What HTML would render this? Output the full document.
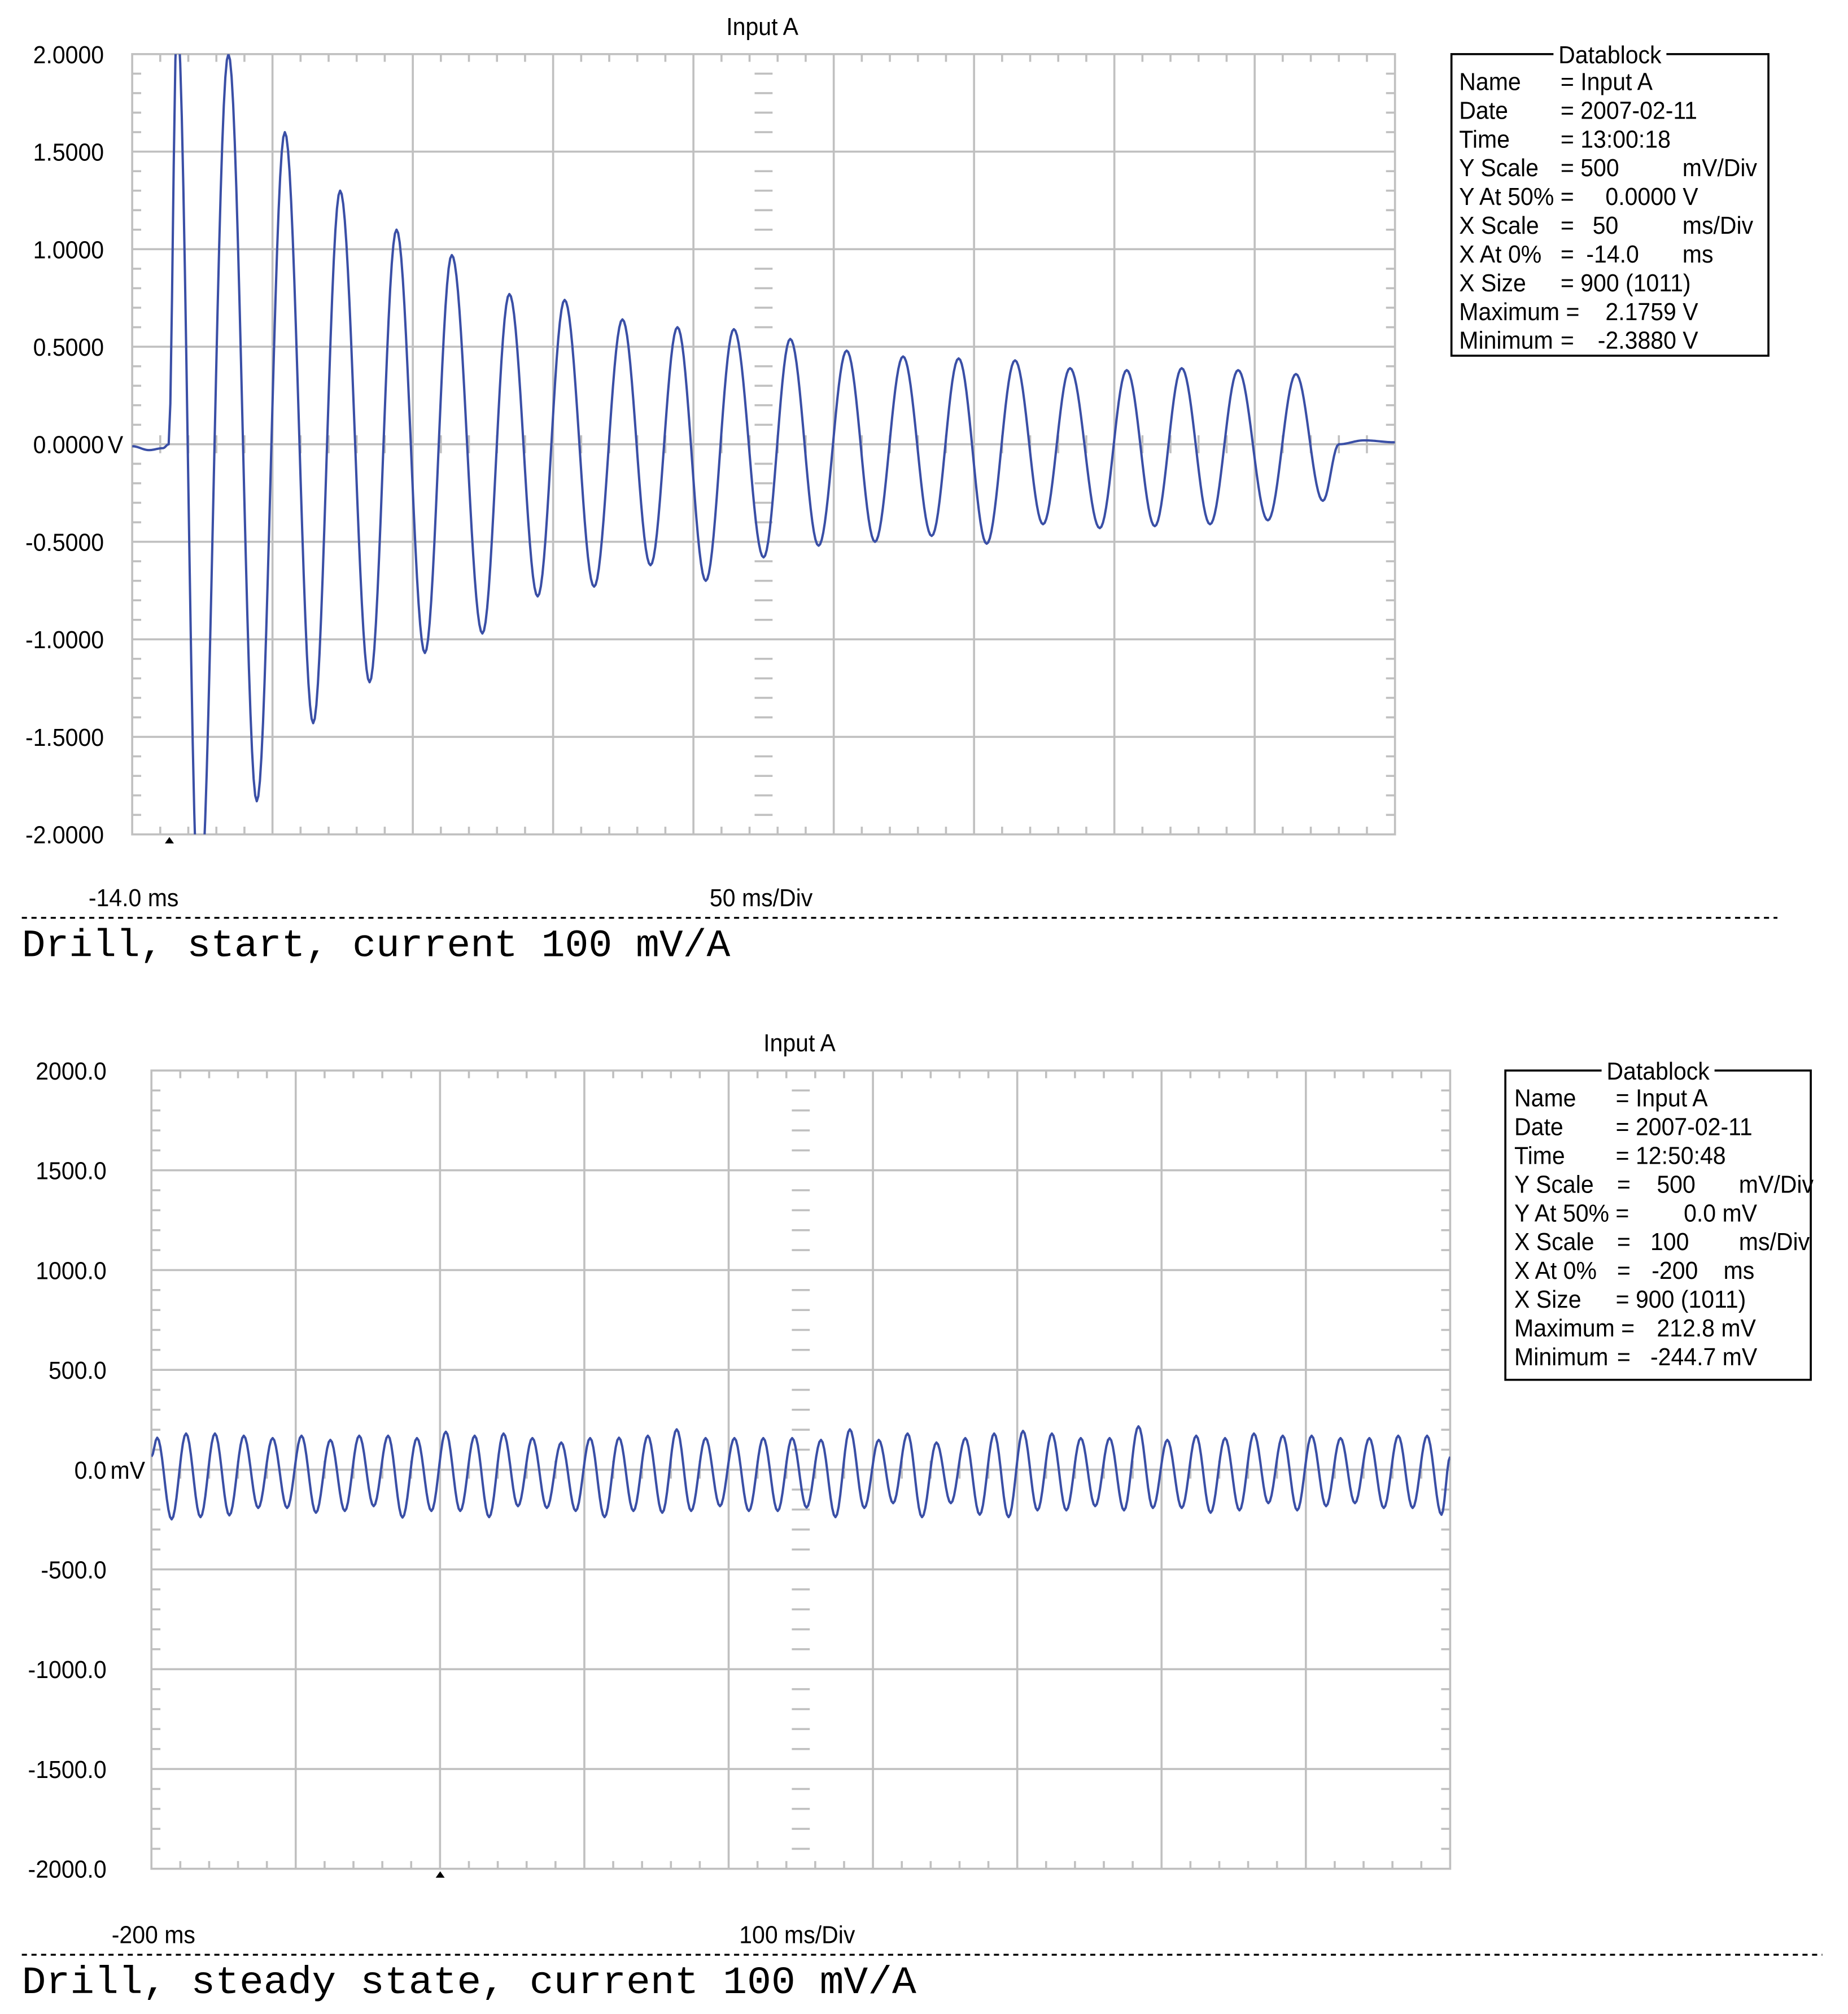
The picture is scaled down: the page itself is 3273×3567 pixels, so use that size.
<!DOCTYPE html>
<html><head><meta charset="utf-8"><style>
html,body{margin:0;padding:0;background:#fff}
svg{display:block}
.t{font-family:"Liberation Sans Narrow","Liberation Sans",sans-serif;font-size:19px;fill:#000}
.m{font-family:"Liberation Mono",monospace;fill:#000}
</style></head><body>
<svg id="svg" width="3273" height="3567" viewBox="0 0 1440 1569" xmlns="http://www.w3.org/2000/svg">
<defs>
<clipPath id="clipTop"><rect x="103" y="42" width="984" height="608"/></clipPath>
<clipPath id="clipBot"><rect x="118" y="834" width="1012" height="622"/></clipPath>
</defs>
<g id="top"></g>
<g id="bot"></g>
</svg>
<script>
// ---- Top chart data (Drill start) ----
const topYTicks = ["2.0000","1.5000","1.0000","0.5000","0.0000","-0.5000","-1.0000","-1.5000","-2.0000"];
const topYTickValues = [2,1.5,1,0.5,0,-0.5,-1,-1.5,-2];
const topTimes = [-14,-8,-3,-1,2.0,9.8,20.3,30.4,40.4,50.5,60.1,70.6,80.2,90.3,99.9,110.8,120.4,130.5,140.1,150.6,160.7,170.7,180.3,190.4,200.4,211.0,220.5,230.6,240.6,250.7,260.7,270.9,280.5,290.5,300.6,310.6,320.2,330.8,340.4,350.4,360.0,370.1,380.1,390.7,400.7,410.3,416,425,436];
const topValues = [-0.01,-0.03,-0.02,0,2.18,-2.39,2.0,-1.83,1.6,-1.43,1.3,-1.22,1.1,-1.07,0.97,-0.97,0.77,-0.78,0.74,-0.73,0.64,-0.62,0.6,-0.7,0.59,-0.58,0.54,-0.52,0.48,-0.5,0.45,-0.47,0.44,-0.51,0.43,-0.41,0.39,-0.43,0.38,-0.42,0.39,-0.41,0.38,-0.39,0.36,-0.29,0.0,0.02,0.01];
// ---- Bottom chart data (steady state), mV ----
const botYTicks = ["2000.0","1500.0","1000.0","500.0","0.0","-500.0","-1000.0","-1500.0","-2000.0"];
const botYTickValues = [2000,1500,1000,500,0,-500,-1000,-1500,-2000];
const botPeakTimes = [-196,-176,-156,-136,-116,-96,-76,-56,-36,-16,4,24,44,64,84,104,124,144,164,184,204,224,244,264,284,304,324,344,364,384,404,424,444,464,484,504,524,544,564,584,604,624,644,664,684];
const botPeakValues = [160,181,181,170,158,170,149,170,170,158,190,170,181,158,136,158,160,170,202,158,158,158,158,149,202,149,181,136,158,181,194,181,158,158,217,149,170,158,181,170,170,158,158,170,170];
const botTroughTimes = [-186,-166,-146,-126,-106,-86,-66,-46,-26,-6,14,34,54,74,94,114,134,154,174,194,214,234,254,274,294,314,334,354,374,394,414,434,454,474,494,514,534,554,574,594,614,634,654,674,694];
const botTroughValues = [-249,-238,-229,-192,-192,-216,-207,-183,-240,-207,-207,-238,-183,-192,-207,-238,-207,-216,-207,-183,-207,-207,-190,-238,-192,-168,-238,-168,-226,-238,-204,-204,-183,-204,-192,-192,-216,-204,-168,-204,-183,-168,-192,-192,-226];
const botStart = [-200, 65];
const botEnd = [700, 65];

const NS="http://www.w3.org/2000/svg";
function mk(tag, attrs, parent){const e=document.createElementNS(NS,tag);for(const k in attrs)e.setAttribute(k,attrs[k]);parent.appendChild(e);return e;}
function txt(s,x,y,cls,anchor,parent){const e=mk('text',{x:0,y:0,class:cls,'text-anchor':anchor||'start',transform:`translate(${x},${y}) scale(0.95,1)`},parent);e.textContent=s;return e;}

function drawChart(cfg){
  const g=document.getElementById(cfg.id);
  const {L,R,T,B}=cfg;
  const W=R-L,H=B-T;
  const xs=t=>L+(t-cfg.t0)/(cfg.t1-cfg.t0)*W;
  const ys=v=>T+(cfg.v1-v)/(cfg.v1-cfg.v0)*H;
  const grid=mk('g',{stroke:'#c0c0c0','stroke-width':1.6,fill:'none'},g);
  
  
  for(let i=1;i<9;i++){const x=L+W*i/9;mk('line',{x1:x,y1:T,x2:x,y2:B},grid);}
  for(let i=1;i<8;i++){const y=T+H*i/8;mk('line',{x1:L,y1:y,x2:R,y2:y},grid);}
  const cx=L+W/2, cy=T+H/2;
  for(let i=1;i<45;i++){if(i%5===0)continue;const x=L+W*i/45;
    mk('line',{x1:x,y1:T,x2:x,y2:T+6},grid);mk('line',{x1:x,y1:B,x2:x,y2:B-6},grid);
    mk('line',{x1:x,y1:cy-7,x2:x,y2:cy+7},grid);}
  for(let i=1;i<40;i++){if(i%5===0)continue;const y=T+H*i/40;
    mk('line',{x1:L,y1:y,x2:L+7,y2:y},grid);mk('line',{x1:R,y1:y,x2:R-7,y2:y},grid);
    mk('line',{x1:cx-7,y1:y,x2:cx+7,y2:y},grid);}
  mk('rect',{x:L,y:T,width:W,height:H},grid);
  cfg.yTickValues.forEach((v,i)=>{
    const t=txt(cfg.yTicks[i],cfg.labX,ys(v)+7,'t','end',g);
    
    
    if(v===0){const u=txt(cfg.unit,cfg.labX+3,ys(v)+7,'t','start',g);
      
      }
  });
  const tt=txt('Input A',cfg.titleX,cfg.titleY,'t','middle',g);
  
  
  const pts=[];
  const E=cfg.ext;
  for(let k=0;k<E.length-1;k++){
    const [t0,v0]=E[k],[t1,v1]=E[k+1];
    const n=Math.max(2,Math.round((xs(t1)-xs(t0))/1.2));
    for(let j=0;j<n;j++){const f=j/n;const w=(1-Math.cos(Math.PI*f))/2;
      pts.push(xs(t0+(t1-t0)*f).toFixed(2)+','+ys(v0+(v1-v0)*w).toFixed(2));}
  }
  const last=E[E.length-1];pts.push(xs(last[0]).toFixed(2)+','+ys(last[1]).toFixed(2));
  const pl=mk('polyline',{points:pts.join(' '),fill:'none',stroke:'#3a4fa6','stroke-width':1.8,'stroke-linejoin':'round','clip-path':cfg.clip},g);
  
  
  const tr=mk('polygon',{points:`${cfg.trigX-3.5},${B+7} ${cfg.trigX+3.5},${B+7} ${cfg.trigX},${B+2}`,fill:'#000'},g);
  
  
}

const topExt=topTimes.map((t,i)=>[t,topValues[i]]);
const botExt=[botStart];
for(let i=0;i<botPeakTimes.length;i++){botExt.push([botPeakTimes[i],botPeakValues[i]]);botExt.push([botTroughTimes[i],botTroughValues[i]]);}
botExt.push(botEnd);

drawChart({id:'top',L:103,R:1087,T:42,B:650,t0:-14,t1:436,v0:-2,v1:2,yTicks:topYTicks,yTickValues:topYTickValues,unit:'V',labX:81,titleX:594,titleY:27,ext:topExt,clip:'url(#clipTop)',trigX:132});
drawChart({id:'bot',L:118,R:1130,T:834,B:1456,t0:-200,t1:700,v0:-2000,v1:2000,yTicks:botYTicks,yTickValues:botYTickValues,unit:'mV',labX:83,titleX:623,titleY:819,ext:botExt,clip:'url(#clipBot)',trigX:343});

function datablock(parentId,x,y,w,h,rows){
  const g=mk('g',{},document.getElementById(parentId));
  
  
  mk('rect',{x:x,y:y,width:w,height:h,fill:'none',stroke:'#000','stroke-width':1.6},g);
  mk('rect',{x:x+w/2-44,y:y-4,width:88,height:8,fill:'#fff'},g);
  txt('Datablock',x+w/2,y+7,'t','middle',g);
  rows.forEach((r,i)=>{const yy=y+22+i*22.4+6;
    r.forEach(c=>{txt(c[0],c[1],yy,'t','start',g);});});
}
datablock('top',1131,42,247,235,[
 [['Name',1137],['= Input A',1216]],
 [['Date',1137],['= 2007-02-11',1216]],
 [['Time',1137],['= 13:00:18',1216]],
 [['Y Scale',1137],['= 500',1216],['mV/Div',1311]],
 [['Y At 50% =',1137],['0.0000 V',1251]],
 [['X Scale',1137],['=',1216],['50',1241],['ms/Div',1311]],
 [['X At 0%',1137],['=',1216],['-14.0',1236],['ms',1311]],
 [['X Size',1137],['= 900 (1011)',1216]],
 [['Maximum =',1137],['2.1759 V',1251]],
 [['Minimum',1137],['=',1216],['-2.3880 V',1245]]
]);
datablock('bot',1173,834,238,241,[
 [['Name',1180],['= Input A',1259]],
 [['Date',1180],['= 2007-02-11',1259]],
 [['Time',1180],['= 12:50:48',1259]],
 [['Y Scale',1180],['=',1260],['500',1291],['mV/Div',1355]],
 [['Y At 50% =',1180],['0.0 mV',1312]],
 [['X Scale',1180],['=',1260],['100',1286],['ms/Div',1355]],
 [['X At 0%',1180],['=',1260],['-200',1287],['ms',1343]],
 [['X Size',1180],['= 900 (1011)',1259]],
 [['Maximum =',1180],['212.8 mV',1291]],
 [['Minimum',1180],['=',1260],['-244.7 mV',1286]]
]);

function footer(parentId,x0,xScale,yX,dashY,dashR,caption,capY,capLen){
  const g=mk('g',{},document.getElementById(parentId));
  
  
  const a=txt(x0[0],x0[1],yX,'t','start',g);
  
  
  const b=txt(xScale[0],xScale[1],yX,'t','start',g);
  
  
  const d=mk('line',{x1:17,y1:dashY,x2:dashR,y2:dashY,stroke:'#000','stroke-width':1.5,'stroke-dasharray':'4 3.5'},g);
  
  
  const c=mk('text',{x:17,y:capY,class:'m','font-size':30,textLength:capLen,lengthAdjust:'spacingAndGlyphs'},g);
  c.textContent=caption;
  
  
}
footer('top',['-14.0 ms',69],['50 ms/Div',553],706,715,1385,'Drill, start, current 100 mV/A',745,552);
footer('bot',['-200 ms',87],['100 ms/Div',576],1514,1523,1420,'Drill, steady state, current 100 mV/A',1553,697);
</script>
</body></html>
